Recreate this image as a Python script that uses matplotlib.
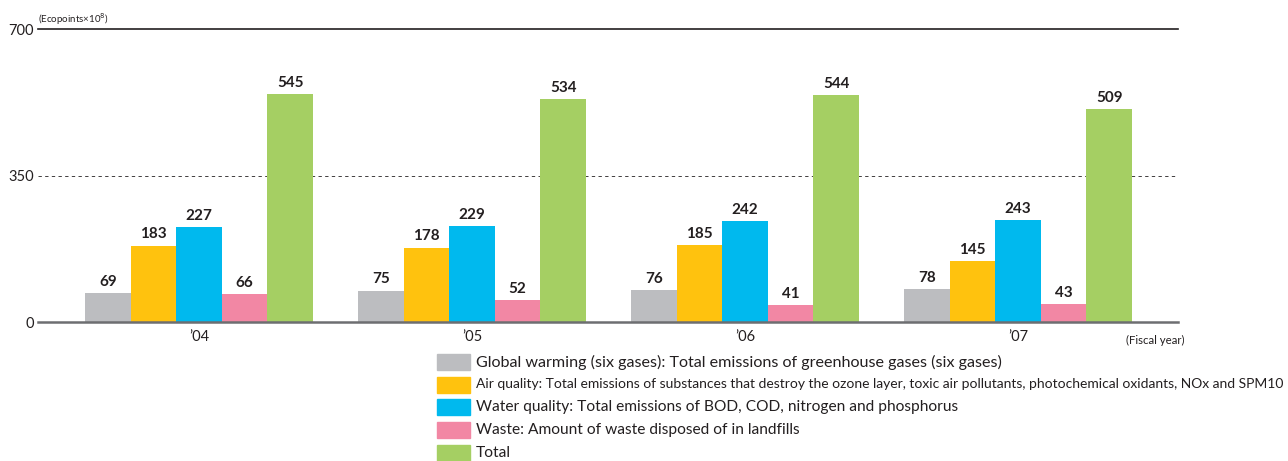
import matplotlib
matplotlib.use("Agg")
import matplotlib.pyplot as plt
from matplotlib.patches import Rectangle
import numpy as np

years = ["’04", "’05", "’06", "’07"]
series_names = [
    "Global warming (six gases): Total emissions of greenhouse gases (six gases)",
    "Air quality: Total emissions of substances that destroy the ozone layer, toxic air pollutants, photochemical oxidants, NOx and SPM10",
    "Water quality: Total emissions of BOD, COD, nitrogen and phosphorus",
    "Waste: Amount of waste disposed of in landfills",
    "Total",
]
global_warming = [69, 75, 76, 78]
air_quality = [183, 178, 185, 145]
water_quality = [227, 229, 242, 243]
waste = [66, 52, 41, 43]
total = [545, 534, 544, 509]
yticks = [0, 350, 700]

colors = ["#BCBDC0", "#FFC20E", "#00B9EE", "#F287A4", "#A5CF63"]
all_series = [global_warming, air_quality, water_quality, waste, total]

plt.rcParams['font.family'] = ['Lato', 'DejaVu Sans']

W, H = 1288, 461
fig = plt.figure(figsize=(W / 100, H / 100), dpi=100)
ax = fig.add_axes([38 / W, 1 - 322 / H, 1140 / W, 292.5 / H])

x = np.arange(len(years))
bw = 0.167
for i, (vals, c) in enumerate(zip(all_series, colors)):
    pos = x + (i - 2) * bw
    bars = ax.bar(pos, vals, width=bw, color=c, zorder=2)
    for b, v in zip(bars, vals):
        ax.annotate(str(v), (b.get_x() + b.get_width() / 2, v), xytext=(0, 3),
                    textcoords="offset points", ha="center", va="bottom",
                    fontsize=11, fontweight="bold", color="#231F20")

ax.set_xlim(-0.59, 3.586)
ax.set_ylim(0, 700)
for s in ax.spines.values():
    s.set_visible(False)
ax.axhline(700, color="#231F20", lw=1.2, zorder=1, clip_on=False)
ax.axhline(350, color="#231F20", lw=0.6, ls=(0, (4, 4)), zorder=1)
ax.axhline(0, color="#6D6E71", lw=1.8, zorder=3, clip_on=False)

ax.set_yticks(yticks)
ax.set_yticklabels([str(t) for t in yticks], fontsize=10.5, color="#231F20")
ax.tick_params(axis="y", length=0, pad=3)
ax.set_xticks(x)
ax.set_xticklabels(years, fontsize=10.5, color="#231F20")
ax.tick_params(axis="x", length=0, pad=6)

fig.text(38 / W, 1 - 19 / H, "(Ecopoints×10$^8$)", fontsize=7, ha="left", va="center",
         color="#231F20")
fig.text(1185 / W, 1 - 340 / H, "(Fiscal year)", fontsize=8.2, ha="right", va="center",
         color="#231F20")

# legend
row_y = [362, 384.5, 407, 430, 453]
target_right = {0: 1012, 1: 1283}
renderer = fig.canvas.get_renderer()
for i, (name, c) in enumerate(zip(series_names, colors)):
    yc = row_y[i]
    fig.patches.append(Rectangle((437 / W, 1 - (yc + 8) / H), 33 / W, 16 / H,
                                 transform=fig.transFigure, color=c, figure=fig))
    t = fig.text(476 / W, 1 - yc / H, name, fontsize=11.2, ha="left", va="center",
                 color="#231F20")
    if i in target_right:
        w = t.get_window_extent(renderer).width
        t.set_fontsize(min(11.6, 11.2 * (target_right[i] - 476) / w))

fig.savefig("out.png", dpi=100)
